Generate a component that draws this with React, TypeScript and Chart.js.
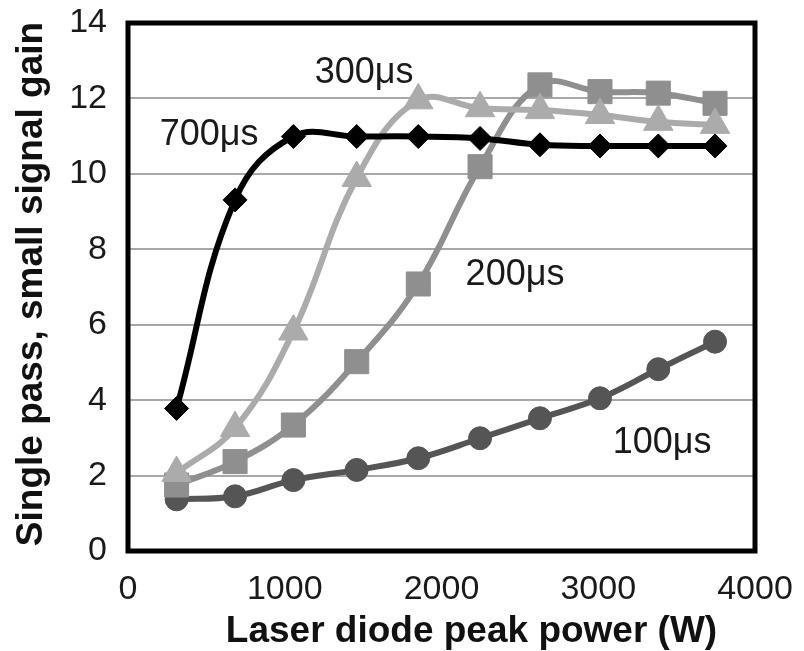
import { useEffect, useRef } from "react";
import { Chart, registerables } from "chart.js";

Chart.register(...registerables);

const FONT = "'Liberation Sans', Arial, Helvetica, sans-serif";

// Laser diode peak power (W) at each measurement
const powerW = [310, 683, 1055, 1459, 1852, 2246, 2628, 3011, 3383, 3745];

// Single pass small signal gain per pump pulse duration
const gain700us = [3.78, 9.31, 10.99, 10.99, 10.99, 10.94, 10.77, 10.74, 10.74, 10.74];
const gain300us = [2.07, 3.26, 5.82, 9.89, 11.95, 11.74, 11.69, 11.56, 11.38, 11.3];
const gain200us = [1.75, 2.37, 3.34, 5.02, 7.08, 10.19, 12.36, 12.18, 12.14, 11.87];
const gain100us = [1.37, 1.45, 1.88, 2.15, 2.46, 2.99, 3.52, 4.05, 4.82, 5.55];

const seriesNames = ["700μs", "300μs", "200μs", "100μs"];
// where each series name sits, in axis units (centre x, baseline y)
const labelAtPower = [517, 1506, 2469, 3407];
const labelAtGain = [10.77, 12.41, 7.05, 2.6];

const xTickValues = [0, 1000, 2000, 3000, 4000];
const yTickValues = [0, 2, 4, 6, 8, 10, 12, 14];

const xAxisTitle = "Laser diode peak power (W)";
const yAxisTitle = "Single pass, small signal gain";

const toPoints = (ys: number[]) => ys.map((y, i) => ({ x: powerW[i], y }));

const overlay = {
  id: "overlay",
  afterDraw(chart: any) {
    const { ctx, chartArea: a, scales } = chart;
    ctx.save();
    // plot frame
    ctx.strokeStyle = "#000";
    ctx.lineWidth = 5;
    ctx.strokeRect(a.left, a.top, a.right - a.left, a.bottom - a.top);

    // series names
    ctx.fillStyle = "#1a1a1a";
    ctx.font = `36px ${FONT}`;
    ctx.textAlign = "center";
    ctx.textBaseline = "alphabetic";
    seriesNames.forEach((name, i) => {
      ctx.fillText(
        name,
        scales.x.getPixelForValue(labelAtPower[i]),
        scales.y.getPixelForValue(labelAtGain[i])
      );
    });

    // axis titles
    ctx.fillStyle = "#111";
    ctx.font = `bold 37px ${FONT}`;
    ctx.fillText(xAxisTitle, (a.left + a.right) / 2 + 30, 642);
    ctx.translate(42, 284);
    ctx.rotate(-Math.PI / 2);
    ctx.fillText(yAxisTitle, 0, 0);
    ctx.restore();
  },
};

export default function App() {
  const canvasRef = useRef<HTMLCanvasElement | null>(null);

  useEffect(() => {
    const canvas = canvasRef.current;
    if (!canvas) return;
    const common = { tension: 0.4, borderWidth: 6, pointBorderWidth: 1 };
    const chart = new Chart(canvas, {
      type: "line",
      data: {
        datasets: [
          {
            ...common,
            label: seriesNames[0],
            data: toPoints(gain700us),
            borderColor: "#000",
            backgroundColor: "#000",
            pointStyle: "rectRot",
            pointRadius: 12,
          },
          {
            ...common,
            label: seriesNames[1],
            data: toPoints(gain300us),
            borderColor: "#ababab",
            backgroundColor: "#ababab",
            pointStyle: "triangle",
            pointRadius: 17,
          },
          {
            ...common,
            label: seriesNames[2],
            data: toPoints(gain200us),
            borderColor: "#8f8f8f",
            backgroundColor: "#8f8f8f",
            pointStyle: "rect",
            pointRadius: 17,
          },
          {
            ...common,
            label: seriesNames[3],
            data: toPoints(gain100us),
            borderColor: "#555555",
            backgroundColor: "#555555",
            pointStyle: "circle",
            pointRadius: 11.5,
          },
        ],
      },
      options: {
        responsive: false,
        animation: false,
        devicePixelRatio: 1,
        layout: { padding: { top: 23, right: 49, left: 0, bottom: 0 } },
        plugins: { legend: { display: false }, tooltip: { enabled: false } },
        scales: {
          x: {
            type: "linear",
            min: 0,
            max: 4000,
            afterBuildTicks: (s: any) => {
              s.ticks = xTickValues.map((value) => ({ value }));
            },
            afterFit: (s: any) => {
              s.height = 100;
              s.paddingLeft = 0;
              s.paddingRight = 0;
            },
            grid: { display: false, drawTicks: false },
            border: { display: false },
            ticks: {
              color: "#1a1a1a",
              font: { family: FONT, size: 34 },
              padding: 18,
              maxRotation: 0,
              callback: (v: any) => String(v),
            },
          },
          y: {
            min: 0,
            max: 14,
            afterBuildTicks: (s: any) => {
              s.ticks = yTickValues.map((value) => ({ value }));
            },
            afterFit: (s: any) => {
              s.width = 128;
              s.paddingTop = 0;
              s.paddingBottom = 0;
            },
            grid: { color: "#a8a8a8", lineWidth: 2, drawTicks: false },
            border: { display: false },
            ticks: {
              color: "#1a1a1a",
              font: { family: FONT, size: 34 },
              padding: 21,
              callback: (v: any) => String(v),
            },
          },
        },
      },
      plugins: [overlay],
    });
    return () => chart.destroy();
  }, []);

  return (
    <div style={{ position: "absolute", left: 0, top: 0, width: 804, height: 651, background: "#fff" }}>
      <canvas ref={canvasRef} width={804} height={651} />
    </div>
  );
}
